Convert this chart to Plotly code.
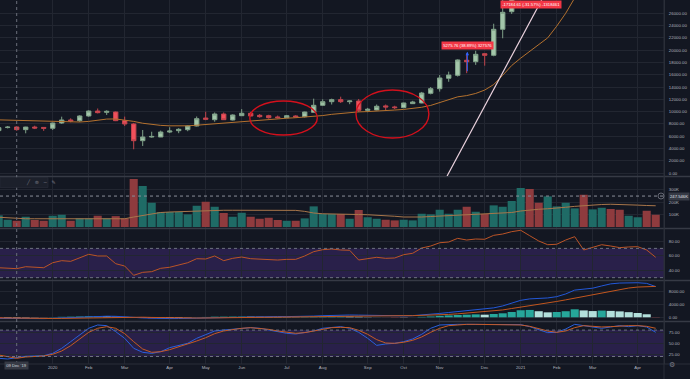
import pandas as pd
import plotly.graph_objects as go
from plotly.subplots import make_subplots

# ---------------- data (weekly bars, first bar = week of 25 Nov 2019) ----------------
START = "2019-11-25"
N_WEEKS = 74
weeks = pd.date_range(START, periods=N_WEEKS, freq="7D")

opens = [6900, 7400, 7490, 7060, 7480, 7420, 7280, 8140, 8630, 8520,
         9280, 10090, 9880, 9930, 8520, 7980, 5260, 5860, 5860, 6670,
         6890, 7050, 7650, 8950, 8680, 9600, 8630, 9330, 9720, 9390,
         9330, 9120, 9000, 9280, 9170, 9880, 11020, 11610, 11940, 11610,
         11720, 10200, 10260, 10920, 10750, 10640, 11290, 11400, 12970, 13720,
         15420, 15900, 18350, 18120, 19420, 19160, 23390, 26260, 33000, 38200,
         36000, 32300, 34300, 39200, 48600, 57500, 46200, 50900, 59000, 57300,
         55800, 58800, 59800, 56100]
highs = [7750, 7650, 7600, 7520, 7700, 7480, 8200, 9170, 8900, 9400,
         10200, 10500, 10200, 10000, 9180, 8150, 7000, 6720, 6900, 7450,
         7300, 7750, 9200, 9980, 9850, 9850, 9550, 10400, 9950, 9600,
         9480, 9350, 9450, 9400, 9980, 12100, 12000, 12100, 12420, 11800,
         12050, 10600, 11150, 11150, 10950, 11450, 11750, 13200, 14000, 15950,
         16500, 18500, 19500, 19900, 19450, 24300, 28400, 34800, 41950, 40100,
         37800, 38500, 40900, 49700, 58300, 57500, 52600, 61800, 61200, 58600,
         60100, 61300, 64900, 56700]
lows = [6550, 7250, 6880, 6460, 7150, 6860, 7000, 8000, 8250, 8300,
        9150, 9700, 9450, 8450, 7650, 3860, 4400, 5750, 5850, 6500,
        6480, 6800, 7580, 8600, 8350, 8650, 8550, 9300, 9200, 9000,
        8850, 8900, 8950, 9050, 9050, 9880, 10900, 11150, 11400, 11200,
        9900, 9900, 10200, 10150, 10400, 10550, 11250, 11350, 12800, 13250,
        14850, 15700, 16250, 17600, 17470, 19000, 21930, 25900, 28500, 30400,
        28900, 29200, 32300, 37400, 47000, 44900, 45000, 49300, 53300, 50300,
        55000, 55500, 55400, 47000]
closes = [7380, 7460, 7060, 7480, 7320, 7280, 8140, 8630, 8470, 9280,
          10090, 9820, 10030, 8520, 7980, 5260, 5860, 5950, 6670, 6830,
          7110, 7650, 8840, 8740, 9600, 8680, 9440, 9720, 9280, 9170,
          9000, 9000, 9330, 9120, 9930, 11020, 11610, 11940, 11610, 11720,
          10200, 10370, 10860, 10750, 10640, 11400, 11560, 13020, 13720, 15470,
          15950, 18400, 18120, 19320, 19160, 23390, 26160, 33000, 38200, 36000,
          32300, 34300, 39200, 48600, 57500, 46200, 50900, 59000, 57300, 55800,
          58800, 59800, 56100, 49000]
price_ma = [8650, 8600, 8550, 8500, 8450, 8400, 8350, 8320, 8300, 8300,
            8400, 8600, 8780, 8800, 8650, 8400, 8100, 7900, 7750, 7680,
            7650, 7680, 7780, 7900, 8050, 8150, 8200, 8300, 8450, 8600,
            8720, 8820, 8920, 9000, 9080, 9170, 9350, 9550, 9720, 9850,
            9950, 10000, 10050, 10120, 10250, 10350, 10500, 10700, 11000, 11500,
            12000, 12400, 12600, 12950, 13500, 14400, 15900, 17500, 18700, 19800,
            20900, 22000, 23900, 26000, 28500, 30500, 32500, 34500, 36500, 38500,
            40500, 42500, 44000, 45000]

volume_k = [93, 58, 50, 82, 56, 50, 90, 98, 50, 69,
            69, 90, 69, 87, 69, 384, 328, 194, 120, 120,
            120, 101, 170, 202, 162, 112, 82, 114, 82, 66,
            74, 56, 50, 50, 69, 165, 104, 104, 104, 66,
            136, 78, 66, 58, 53, 58, 53, 106, 101, 138,
            106, 138, 162, 122, 104, 173, 162, 208, 312, 304,
            194, 245, 165, 194, 149, 258, 141, 154, 144, 138,
            90, 78, 130, 98]
volume_ma_k = [78, 72, 68, 66, 66, 66, 67, 68, 67, 67,
               67, 67, 67, 66, 66, 80, 92, 110, 116, 120,
               123, 125, 127, 130, 133, 134, 134, 134, 134, 134,
               134, 134, 134, 133, 125, 112, 106, 103, 102, 101,
               100, 98, 96, 92, 86, 80, 78, 80, 84, 88,
               92, 96, 100, 102, 105, 109, 113, 116, 128, 138,
               142, 146, 150, 158, 165, 172, 178, 180, 182, 181,
               178, 175, 172, 170]

rsi = [43.6, 42.8, 42.3, 45.0, 44.2, 43.6, 50.4, 53.2, 52.3, 57.3,
       61.9, 59.6, 59.6, 49.1, 45.9, 33.2, 37.3, 38.2, 42.8, 44.2,
       47.3, 50.4, 55.9, 55.5, 59.6, 53.2, 56.4, 58.2, 55.9, 55.0,
       54.1, 54.1, 55.0, 55.0, 59.6, 65.5, 68.2, 69.1, 67.8, 67.4,
       54.1, 55.9, 57.8, 56.4, 56.9, 61.4, 63.3, 70.5, 73.2, 77.7,
       78.7, 83.7, 81.4, 82.8, 82.4, 87.8, 89.6, 92.8, 94.7, 87.3,
       80.1, 75.0, 75.6, 81.4, 86.0, 67.8, 71.4, 75.0, 73.2, 71.0,
       71.9, 72.3, 67.8, 57.8]

macd = [-350, -400, -440, -450, -440, -420, -330, -200, -100, 20,
        170, 280, 340, 300, 230, -10, -190, -330, -380, -400,
        -380, -320, -200, -100, 20, 80, 150, 210, 240, 250,
        240, 230, 220, 210, 260, 380, 500, 610, 700, 720,
        680, 600, 560, 520, 470, 460, 520, 700, 900, 1200,
        1500, 1800, 2100, 2400, 2500, 2950, 3550, 4400, 5300, 5750,
        5900, 6050, 6450, 7300, 8500, 8750, 9100, 9800, 10450, 10700,
        10800, 10800, 10600, 9600]
signal = [-200, -260, -310, -350, -380, -390, -380, -350, -300, -230,
          -150, -60, 20, 80, 110, 90, 30, -40, -110, -170,
          -210, -240, -230, -210, -170, -120, -70, -10, 40, 80,
          110, 140, 150, 160, 180, 220, 270, 340, 420, 480,
          520, 540, 545, 540, 530, 515, 510, 560, 640, 750,
          900, 1080, 1280, 1480, 1680, 1920, 2300, 2750, 3150, 3550,
          4000, 4500, 4950, 5450, 6000, 6600, 7150, 7700, 8250, 8750,
          9150, 9450, 9650, 9650]
macd_hist = [-150, -140, -130, -100, -60, -30, 50, 150, 200, 250,
             320, 340, 320, 220, 120, -100, -220, -290, -270, -230,
             -170, -80, 30, 110, 190, 200, 220, 220, 200, 170,
             130, 90, 70, 50, 80, 160, 230, 270, 280, 240,
             160, 60, 15, -20, -60, -55, 10, 140, 260, 450,
             600, 720, 820, 920, 820, 1030, 1250, 1650, 2200, 2300,
             1900, 1550, 1650, 1900, 2500, 2150, 1950, 2100, 2000, 1850,
             1600, 1350, 950, -50]

stoch_k = [15.9, 14.3, 17.3, 20.4, 21.1, 21.8, 27.1, 38.6, 53.7, 68.9,
           84.1, 91.6, 90.1, 76.5, 61.3, 38.6, 29.5, 27.1, 31.0, 40.1,
           44.6, 50.0, 61.3, 68.9, 78.0, 80.2, 82.5, 84.1, 85.5, 84.1,
           80.2, 76.5, 72.7, 71.1, 74.9, 78.0, 84.1, 86.3, 87.8, 84.1,
           74.9, 61.3, 45.3, 48.5, 50.0, 53.7, 59.8, 70.4, 84.1, 91.6,
           93.1, 93.1, 93.1, 93.1, 93.1, 93.1, 93.1, 93.1, 92.4, 87.8,
           80.2, 74.2, 74.9, 82.5, 93.1, 90.1, 85.5, 84.1, 87.1, 90.1,
           87.8, 90.1, 87.1, 74.9]
stoch_d = [23.4, 18.9, 15.9, 18.9, 20.4, 21.1, 25.0, 32.5, 44.6, 59.8,
           74.9, 84.1, 87.8, 84.1, 71.9, 53.7, 37.0, 29.5, 31.0, 35.5,
           41.6, 47.7, 55.2, 62.7, 71.9, 78.0, 81.7, 84.1, 85.5, 84.1,
           81.7, 78.0, 74.9, 72.7, 74.2, 78.0, 81.7, 85.5, 86.3, 85.5,
           79.5, 70.4, 58.3, 50.7, 50.0, 52.3, 56.8, 64.4, 74.9, 84.1,
           90.1, 92.4, 93.1, 93.1, 93.1, 93.1, 93.1, 93.1, 91.6, 88.6,
           83.3, 78.0, 74.9, 78.0, 85.5, 90.1, 88.6, 87.1, 87.8, 89.3,
           90.1, 90.1, 88.6, 84.1]

month_ticks = ["2020-01-06", "2020-02-03", "2020-03-02", "2020-04-06", "2020-05-04",
               "2020-06-01", "2020-07-06", "2020-08-03", "2020-09-07", "2020-10-05",
               "2020-11-02", "2020-12-07", "2021-01-04", "2021-02-01", "2021-03-01",
               "2021-04-05"]
month_labels = ["2020", "Feb", "Mar", "Apr", "May", "Jun", "Jul", "Aug", "Sep", "Oct",
                "Nov", "Dec", "2021", "Feb", "Mar", "Apr"]
price_ticks = list(range(0, 28001, 2000))
volume_ticks = [100000, 200000, 300000]
volume_tick_labels = ["100K", "200K", "300K"]
rsi_ticks = [40, 60, 80]
macd_ticks = [0, 4000, 8000]
stoch_ticks = [25, 50, 75]

crosshair_date = "2019-12-09"
crosshair_volume = 247546.8
measure_up_text = "5275.76 (38.89%) 327576"
measure_down_text = "-17184.61 (-31.57%) -1318461"

# ---------------- styling ----------------
BG = "#131722"
GRID = "#222631"
TXT = "#b2b5be"
FONT = "Liberation Sans"
UP_VOL = "#1f6b66"
DN_VOL = "#8f3b3e"
H = 364.0   # plot-area height in px
W = 664.0   # plot-area width in px


def py(y):
    return (H - y) / H


def week_time(w):
    return pd.Timestamp(crosshair_date) + pd.Timedelta(days=7 * w)


volumes = [v * 1000 for v in volume_k]
volume_ma = [v * 1000 for v in volume_ma_k]
vol_colors = [UP_VOL if c >= o else DN_VOL for o, c in zip(opens, closes)]

hist_colors = []
for i, h in enumerate(macd_hist):
    prev = macd_hist[i - 1] if i > 0 else h
    if h >= 0:
        hist_colors.append("#26a69a" if h >= prev else "#b2dfdb")
    else:
        hist_colors.append("#ff5252" if h <= prev else "#ffcdd2")

fig = make_subplots(rows=5, cols=1, shared_xaxes=True, vertical_spacing=0.0)

fig.add_trace(go.Candlestick(
    x=weeks, open=opens, high=highs, low=lows, close=closes,
    increasing=dict(fillcolor="#a3c6aa", line=dict(color="#7fa088", width=1)),
    decreasing=dict(fillcolor="#f0505b", line=dict(color="#c0444d", width=1)),
    whiskerwidth=0, hoverinfo="skip"), row=1, col=1)
fig.add_trace(go.Scatter(x=weeks, y=price_ma, mode="lines",
                         line=dict(color="#b4712e", width=1), hoverinfo="skip"), row=1, col=1)

bar_w = 6.3 * 86400000
fig.add_trace(go.Bar(x=weeks, y=volumes, marker=dict(color=vol_colors, line=dict(width=0)),
                     width=bar_w, hoverinfo="skip"), row=2, col=1)
fig.add_trace(go.Scatter(x=weeks, y=volume_ma, mode="lines",
                         line=dict(color="#a8764a", width=1), hoverinfo="skip"), row=2, col=1)

fig.add_trace(go.Scatter(x=weeks, y=rsi, mode="lines",
                         line=dict(color="#bb5427", width=1), hoverinfo="skip"), row=3, col=1)

fig.add_trace(go.Bar(x=weeks, y=macd_hist, marker=dict(color=hist_colors, line=dict(width=0)),
                     width=bar_w, hoverinfo="skip"), row=4, col=1)
fig.add_trace(go.Scatter(x=weeks, y=macd, mode="lines",
                         line=dict(color="#2358d8", width=1), hoverinfo="skip"), row=4, col=1)
fig.add_trace(go.Scatter(x=weeks, y=signal, mode="lines",
                         line=dict(color="#c2561e", width=1), hoverinfo="skip"), row=4, col=1)

fig.add_trace(go.Scatter(x=weeks, y=stoch_k, mode="lines",
                         line=dict(color="#2a5fdc", width=1), hoverinfo="skip"), row=5, col=1)
fig.add_trace(go.Scatter(x=weeks, y=stoch_d, mode="lines",
                         line=dict(color="#c65a24", width=1), hoverinfo="skip"), row=5, col=1)

x_range = [week_time(-16.7 / 9), week_time((W - 16.7) / 9)]

fig.update_xaxes(range=x_range, tickvals=month_ticks, ticktext=month_labels,
                 showgrid=True, gridcolor=GRID, gridwidth=1, zeroline=False,
                 showline=False, ticks="", rangeslider_visible=False,
                 tickfont=dict(size=4.3, color=TXT, family=FONT))
fig.update_xaxes(showticklabels=True, row=5, col=1)


def yax(domain, rng, tv, tt):
    return dict(domain=domain, range=rng, side="right", tickvals=tv, ticktext=tt,
                showgrid=True, gridcolor=GRID, gridwidth=1, zeroline=False,
                tickfont=dict(size=4.3, color=TXT, family=FONT), ticks="",
                showline=True, linecolor="#2a2e39", linewidth=1, ticklabelstandoff=3)


fig.update_layout(
    yaxis=yax([py(176), 1.0], [-488, 28162], price_ticks, [f"{v:.2f}" for v in price_ticks]),
    yaxis2=yax([py(228), py(177)], [-8000, 400000], volume_ticks, volume_tick_labels),
    yaxis3=yax([py(280), py(229)], [26.83, 96.45], rsi_ticks, [f"{v:.2f}" for v in rsi_ticks]),
    yaxis4=yax([py(321), py(281)], [-1156, 11344], macd_ticks, [f"{v:.2f}" for v in macd_ticks]),
    yaxis5=yax([0.0, py(322)], [2.95, 98.4], stoch_ticks, [f"{v:.2f}" for v in stoch_ticks]),
)

shapes = []
# indicator bands
for yref, lo, hi in [("y3", 30, 70), ("y5", 20, 80)]:
    shapes.append(dict(type="rect", xref="paper", yref=yref, x0=0, x1=1, y0=lo, y1=hi,
                       fillcolor="rgba(103,58,183,0.27)", line=dict(width=0), layer="below"))
    for lv in (lo, hi):
        shapes.append(dict(type="line", xref="paper", yref=yref, x0=0, x1=1, y0=lv, y1=lv,
                           line=dict(color="#6e7280", width=1, dash="dot")))
# pane separators
for yy in [176.5, 228.5, 280.5, 321.5]:
    shapes.append(dict(type="line", xref="paper", yref="paper", x0=0, x1=690 / W,
                       y0=py(yy), y1=py(yy), line=dict(color="#363a45", width=1.4)))
shapes.append(dict(type="line", xref="paper", yref="paper", x0=0, x1=690 / W,
                   y0=0, y1=0, line=dict(color="#2a2e39", width=1)))
shapes.append(dict(type="line", xref="paper", yref="paper", x0=1, x1=1,
                   y0=-15 / H, y1=1, line=dict(color="#2a2e39", width=1)))
# crosshair
shapes.append(dict(type="line", xref="x", yref="paper", x0=crosshair_date, x1=crosshair_date,
                   y0=0, y1=1, line=dict(color="#6a6e7a", width=1, dash="dot")))
shapes.append(dict(type="line", xref="paper", yref="y2", x0=0, x1=1,
                   y0=crosshair_volume, y1=crosshair_volume,
                   line=dict(color="#8a8e99", width=1, dash="dot")))
shapes.append(dict(type="circle", xref="paper", yref="paper", x0=658 / W, x1=664 / W,
                   y0=py(199), y1=py(193), line=dict(color="#787b86", width=0.8)))
# trend line drawing
shapes.append(dict(type="line", xref="x", yref="y",
                   x0=week_time(47.82), y0=-488, x1=week_time(58.33), y1=28162,
                   line=dict(color="#ecd3df", width=1.2)))
# hand-drawn red ellipses
shapes.append(dict(type="circle", xref="x", yref="y",
                   x0=week_time(25.9), x1=week_time(33.4), y0=6190, y1=11720,
                   line=dict(color="#d3101c", width=1.4)))
shapes.append(dict(type="circle", xref="x", yref="y",
                   x0=week_time(37.7), x1=week_time(45.8), y0=5700, y1=13510,
                   line=dict(color="#d3101c", width=1.4)))
# pane toolbar
shapes.append(dict(type="rect", xref="paper", yref="paper", x0=0, x1=48 / W,
                   y0=py(187.5), y1=py(177.5), fillcolor="#1c202b",
                   line=dict(color="#2a2e39", width=0.6)))

annotations = [
    dict(x=week_time(50.09), y=20760, xref="x", yref="y", text=measure_up_text,
         showarrow=False, bgcolor="#f23645", borderpad=1.2,
         font=dict(size=4.2, color="#ffffff", family=FONT)),
    dict(x=week_time(57.14), y=27430, xref="x", yref="y", text=measure_down_text,
         showarrow=False, bgcolor="#f23645", borderpad=1.2,
         font=dict(size=4.2, color="#ffffff", family=FONT)),
    dict(x=week_time(50.07), y=19750, xref="x", yref="y", ax=week_time(50.07), ay=16330,
         axref="x", ayref="y", showarrow=True, arrowhead=2, arrowsize=0.7,
         arrowwidth=1, arrowcolor="#2962ff", text=""),
    dict(x=668 / W, y=crosshair_volume, xref="paper", yref="y2", text="247.546K",
         xanchor="left", showarrow=False, bgcolor="#363a45", borderpad=1,
         font=dict(size=4.2, color="#e0e3eb", family=FONT)),
    dict(x=crosshair_date, y=-6 / H, xref="x", yref="paper", text="09 Dec '19",
         showarrow=False, bgcolor="#363a45", borderpad=1.2,
         font=dict(size=4.2, color="#d1d4dc", family=FONT)),
    dict(x=24 / W, y=py(182.5), xref="paper", yref="paper",
         text="╱   ⊜   ─   ✎", showarrow=False,
         font=dict(size=5, color="#787b86", family="DejaVu Sans")),
    dict(x=677 / W, y=-7 / H, xref="paper", yref="paper", text="⚙", showarrow=False,
         font=dict(size=7, color="#787b86", family="DejaVu Sans")),
]

fig.update_layout(
    width=690, height=379,
    margin=dict(l=0, r=26, t=0, b=15),
    paper_bgcolor=BG, plot_bgcolor=BG,
    showlegend=False, hovermode=False,
    shapes=shapes, annotations=annotations,
    font=dict(family=FONT, color=TXT),
)

fig.write_html(
    "out.html",
    config={"displayModeBar": False, "staticPlot": True},
    post_script="document.body.style.margin='0px';document.body.style.padding='0px';"
                "document.body.style.overflow='hidden';"
                "document.body.style.background='#131722';",
)
